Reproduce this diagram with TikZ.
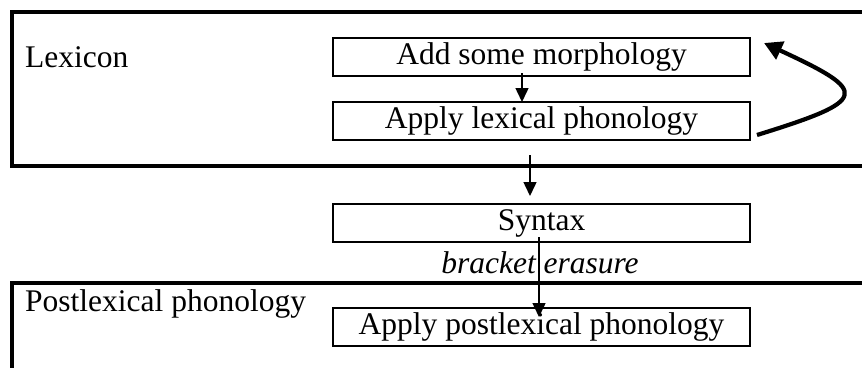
\documentclass[tikz,border=0pt]{standalone}
\usepackage{fontspec}
\setmainfont{Liberation Serif}
\usetikzlibrary{arrows.meta}
\begin{document}
\begin{tikzpicture}[x=1pt,y=-1pt,
  every node/.style={font=\fontsize{31.5}{36}\selectfont, inner sep=0pt},
  procbox/.style={draw, line width=2pt, minimum width=417pt, minimum height=38pt, anchor=center},
  regionline/.style={line width=3.2pt},
  arr/.style={line width=1.5pt, -{Triangle[width=13pt,length=14pt]}},
  bigarr/.style={line width=4.2pt, -{Triangle[width=19pt,length=18pt]}}]
\useasboundingbox (0,0) rectangle (862,367);
\clip (0,0) rectangle (862,367);
% region outlines
\draw[regionline] (880,12) -- (12,12) -- (12,166) -- (880,166);
\draw[regionline] (880,283) -- (12,283) -- (12,380);
% labels
\node[anchor=base west] (lex) at (25,67) {Lexicon};
\node[anchor=base west] (postlex) at (25,311) {Postlexical phonology};
% boxes
\node[procbox] (add) at (541.5,57) {Add some morphology};
\node[procbox] (apply) at (541.5,120.5) {Apply lexical phonology};
\node[procbox] (syntax) at (541.5,223) {Syntax};
\node[procbox] (post) at (541.5,327) {Apply postlexical phonology};
\node[anchor=base, font=\fontsize{31.5}{36}\selectfont\itshape] (erase) at (540,273) {bracket erasure};
% connectors
\coordinate (a1) at (522,73);
\coordinate (a2) at (522,102);
\draw[arr] (a1) -- (a2);
\coordinate (l1) at (530,155);
\coordinate (l2) at (530,196);
\draw[arr] (l1) -- (l2);
\coordinate (s1) at (539,237);
\coordinate (s2) at (539,317);
\draw[arr] (s1) -- (s2);
\coordinate (c1) at (757,135);
\coordinate (c2) at (764,43);
\draw[bigarr] (c1) .. controls (870,100) and (870,92) .. (c2);
\end{tikzpicture}
\end{document}
